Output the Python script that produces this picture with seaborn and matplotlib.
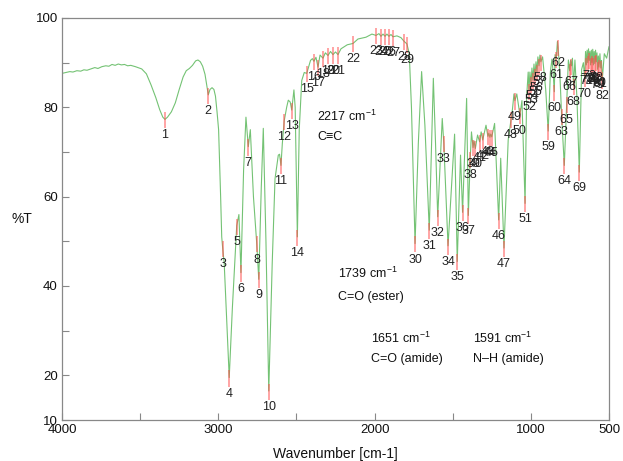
import matplotlib
matplotlib.use("Agg")
import matplotlib.pyplot as plt
import pandas as pd
import seaborn as sns

# Picked absorption bands: index, wavenumber [cm-1], transmittance [%T]
peak_ids = list(range(1, 83))
peak_wn = [3341, 3064, 2972, 2930, 2882, 2855, 2808, 2754, 2741, 2677,
           2599, 2578, 2530, 2494, 2434, 2388, 2362, 2330, 2298, 2266,
           2234, 2138, 1991, 1959, 1933, 1908, 1882, 1812, 1793, 1741,
           1650, 1596, 1557, 1530, 1471, 1437, 1400, 1388, 1370, 1355,
           1328, 1308, 1275, 1262, 1250, 1206, 1172, 1127, 1102, 1070,
           1037, 1012, 999, 987, 974, 961, 948, 936, 889, 850,
           838, 826, 803, 786, 771, 752, 740, 727, 690, 656,
           645, 636, 627, 618, 609, 600, 591, 582, 573, 564,
           553, 543]
peak_t = [77.3, 82.8, 48.5, 19.5, 53.5, 43.0, 71.2, 49.5, 41.5, 16.5,
          67.0, 77.0, 79.4, 51.0, 87.6, 90.3, 89.0, 91.0, 91.6, 91.8,
          91.8, 94.3, 96.1, 95.9, 95.9, 95.9, 95.8, 94.8, 94.2, 49.5,
          52.5, 55.5, 72.0, 49.0, 45.5, 56.5, 55.8, 68.5, 71.0, 70.8,
          72.3, 72.7, 73.5, 73.3, 73.4, 54.8, 48.5, 77.3, 81.5, 78.3,
          58.5, 83.7, 85.2, 86.1, 87.0, 87.9, 89.3, 90.2, 74.7, 83.5,
          90.8, 93.5, 78.0, 67.0, 80.7, 88.2, 89.3, 84.8, 65.5, 86.6,
          89.5, 90.0, 90.5, 89.5, 90.0, 89.5, 89.8, 90.2, 88.5, 89.0,
          88.8, 86.2]

# Spectrum trace between the picked bands
trace_wn = [4000, 3975, 3950, 3930, 3905, 3880, 3860, 3840, 3815, 3790,
            3770, 3745, 3720, 3700, 3680, 3660, 3640, 3620, 3600, 3580,
            3560, 3530, 3490, 3460, 3430, 3400, 3375, 3355, 3325, 3300,
            3275, 3250, 3225, 3205, 3185, 3165, 3145, 3130, 3115, 3100,
            3085, 3072, 3053, 3040, 3028, 3018, 3008, 2998, 2985, 2978,
            2962, 2910, 2868, 2838, 2823, 2795, 2775, 2725, 2712, 2695,
            2655, 2637, 2616, 2608, 2590, 2562, 2552, 2540, 2516, 2508,
            2482, 2466, 2450, 2410, 2398, 2375, 2349, 2315, 2282, 2250,
            2215, 2175, 2106, 2055, 2017, 1972, 1946, 1921, 1895, 1857,
            1831, 1778, 1764, 1720, 1699, 1678, 1624, 1610, 1567, 1488,
            1450, 1411, 1380, 1364, 1341, 1318, 1287, 1269, 1257, 1232,
            1193, 1145, 1118, 1108, 1090, 1057, 1027, 1017, 1006, 993,
            980, 967, 955, 942, 925, 905, 875, 865, 858, 845,
            830, 815, 760, 746, 734, 718, 705, 675, 664, 650,
            640, 631, 622, 613, 604, 595, 586, 577, 568, 558,
            548, 530, 515, 500]
trace_t = [87.6, 87.8, 88.0, 87.9, 88.2, 88.1, 88.4, 88.3, 88.6, 88.9,
           88.7, 89.1, 89.3, 89.2, 89.6, 89.4, 89.7, 89.5, 89.6, 89.3,
           89.4, 89.1, 88.6, 87.5, 85.0, 82.2, 79.5, 77.8, 77.8, 79.0,
           81.0, 84.0, 86.8, 88.2, 88.7, 89.4, 90.4, 90.6, 90.2, 89.2,
           87.4, 84.5, 84.0, 84.4, 84.0, 82.5, 79.0, 75.0, 60.0, 51.0,
           45.0, 35.0, 56.0, 66.0, 77.8, 75.0, 60.0, 62.0, 75.3, 50.0,
           45.0, 64.0, 69.3, 69.5, 72.0, 80.1, 81.6, 81.2, 83.9, 80.0,
           75.0, 86.0, 87.8, 90.5, 90.9, 91.2, 91.7, 92.2, 92.5, 92.4,
           93.1, 94.0, 95.3, 95.7, 96.4, 96.5, 96.4, 96.4, 96.3, 96.0,
           95.6, 92.0, 80.0, 72.0, 88.0, 76.0, 86.5, 72.0, 77.5, 74.0,
           69.3, 82.0, 74.5, 72.5, 73.8, 74.5, 76.0, 74.2, 74.0, 76.4,
           68.6, 72.7, 79.5, 83.0, 83.0, 81.5, 82.4, 87.9, 87.9, 88.8,
           89.7, 90.2, 91.3, 91.7, 91.3, 84.0, 88.0, 90.8, 88.0, 91.8,
           94.7, 88.0, 90.6, 90.5, 91.0, 90.6, 82.0, 88.5, 90.0, 92.5,
           92.8, 93.1, 92.5, 92.8, 93.0, 92.5, 92.8, 92.2, 91.5, 92.0,
           90.5, 92.0, 91.0, 93.6]

# Band assignments written on the chart
notes = [("2217 cm$^{-1}$", "C\u2261C", 317, 116, 137),
         ("1739 cm$^{-1}$", "C=O (ester)", 338, 273, 297),
         ("1651 cm$^{-1}$", "C=O (amide)", 371, 338, 359),
         ("1591 cm$^{-1}$", "N\u2013H (amide)", 473, 338, 359)]

x_ticks = [4000, 3500, 3000, 2500, 2000, 1500, 1000, 500]
x_tick_labels = ["4000", "", "3000", "", "2000", "", "1000", "500"]
y_ticks = [10, 20, 30, 40, 50, 60, 70, 80, 90, 100]
y_tick_labels = ["10", "20", "", "40", "", "60", "", "80", "", "100"]

sns.set_style("ticks")
plt.rcParams["font.family"] = ["Liberation Sans", "DejaVu Sans"]
plt.rcParams["mathtext.fontset"] = "custom"
plt.rcParams["mathtext.rm"] = "Liberation Sans"

spectrum = pd.DataFrame({"wn": trace_wn + peak_wn, "t": trace_t + peak_t})
spectrum = spectrum.sort_values("wn", ascending=False).reset_index(drop=True)

W, H = 623, 461
fig = plt.figure(figsize=(W / 100, H / 100), dpi=100)
ax = fig.add_axes([62 / W, 1 - 420 / H, 547 / W, 402 / H])

sns.lineplot(data=spectrum, x="wn", y="t", sort=False, estimator=None,
             color="#5cb85c", linewidth=0.8, alpha=0.85, ax=ax)

# band markers and index labels
ax.vlines(peak_wn, [t - 2.0 for t in peak_t], [t + 1.6 for t in peak_t],
          colors="#ff4d4d", linewidth=1.3, alpha=0.55, zorder=3)
for pid, wn, t in zip(peak_ids, peak_wn, peak_t):
    ax.annotate(str(pid), xy=(wn, t), xytext=(0, -11.5),
                textcoords="offset points", ha="center", va="center",
                fontsize=9, color="#222222", zorder=4)

ax.set_xlim(4000, 500)
ax.set_ylim(10, 100)
ax.set_xticks(x_ticks)
ax.set_xticklabels(x_tick_labels)
ax.set_yticks(y_ticks)
ax.set_yticklabels(y_tick_labels)
ax.tick_params(direction="in", length=5, width=0.8, color="#888888",
               labelsize=9.5, labelcolor="#111111", pad=3)
for side in ["top", "right", "bottom", "left"]:
    ax.spines[side].set_visible(True)
    ax.spines[side].set_color("#888888")
    ax.spines[side].set_linewidth(0.9)

ax.set_xlabel("Wavenumber [cm-1]", fontsize=10, color="#111111")
ax.xaxis.set_label_coords(0.5, -0.066)
ax.set_ylabel("%T", rotation=0, fontsize=10, color="#111111",
              va="center", ha="center")
ax.yaxis.set_label_coords(-0.073, 0.5)

for wave, bond, px, py1, py2 in notes:
    fig.text(px / W, 1 - py1 / H, wave, fontsize=9, va="center", ha="left",
             color="#111111")
    fig.text(px / W, 1 - py2 / H, bond, fontsize=9, va="center", ha="left",
             color="#111111")

fig.savefig("out.png", dpi=100)
